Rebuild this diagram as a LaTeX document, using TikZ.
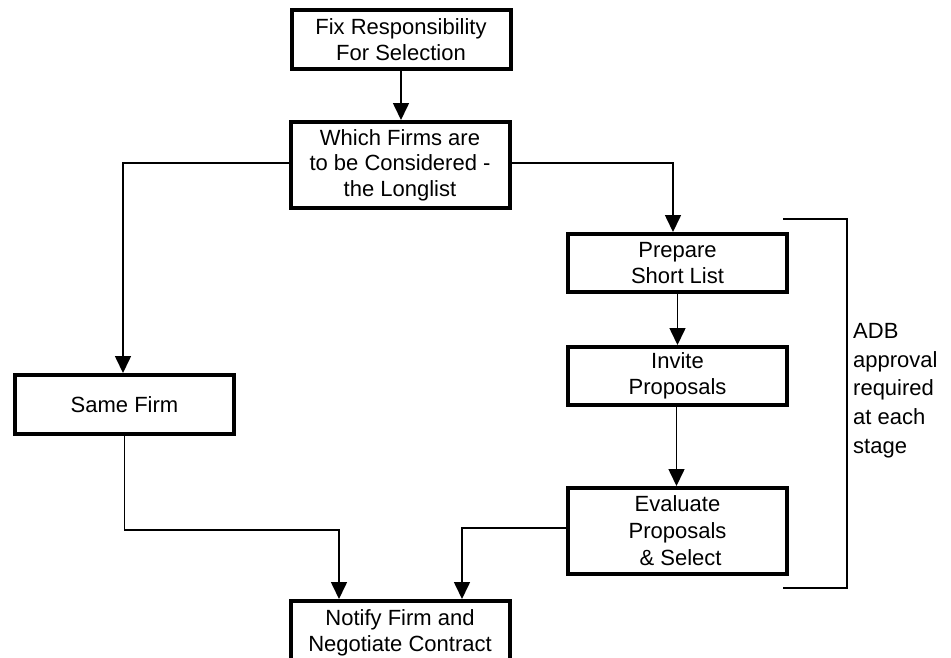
\documentclass[tikz,border=0pt]{standalone}
\usepackage{fontspec}
\setmainfont{Liberation Sans}
\usetikzlibrary{arrows.meta,calc}

\tikzset{
  stagebox/.style={draw=black, line width=4pt, fill=white, minimum width=219pt,
    align=center, inner sep=0pt, font=\fontsize{22}{25.5}\selectfont},
  flow/.style={line width=1.6pt, -{Triangle[length=17pt,width=16pt]}},
  link/.style={line width=1.6pt},
}

\begin{document}
\begin{tikzpicture}[x=1pt,y=-1pt]
  \useasboundingbox (0,0) rectangle (951,657);
  \clip (0,0) rectangle (951,657);

  % process boxes
  \node[stagebox, minimum height=59pt] (fix)    at (401,39.5)  {Fix Responsibility\\For Selection};
  \node[stagebox, minimum height=86pt] (which)  at (400,165)   {Which Firms are\\to be Considered -\\the Longlist};
  \node[stagebox, minimum height=58pt] (prep)   at (677.5,263) {Prepare\\Short List};
  \node[stagebox, minimum height=58pt] (invite) at (677.5,376) {Invite\\Proposals};
  \node[stagebox, minimum height=86pt, font=\fontsize{22}{27}\selectfont]
                                       (eval)   at (677.5,531) {Evaluate\\Proposals\\\ \& Select};
  \node[stagebox, minimum height=59pt] (same)   at (124.5,404.5) {Same Firm};
  \node[stagebox, minimum height=64pt] (notify) at (400,633)   {Notify Firm and\\Negotiate Contract};

  % connectors
  \draw[flow] (fix.south) -- (which.north -| fix.south);
  \draw[flow] ([yshift=2pt]which.west) -| (same.north -| 123,0);
  \draw[flow] ([yshift=2pt]which.east) -| (prep.north -| 673,0);
  \draw[flow] (prep.south) -- (invite.north);
  \draw[flow] ([xshift=-1pt]invite.south) -- ([xshift=-1pt]eval.north);
  \coordinate (samebend) at (same.south |- 0,530);
  \draw[flow] (same.south) -- (samebend) -| ([xshift=-61pt]notify.north);
  \draw[flow] ([yshift=3pt]eval.west) -| ([xshift=62pt]notify.north);

  % approval bracket and note
  \coordinate (brtop) at (783,219);
  \coordinate (brbot) at (783,588);
  \draw[link] (brtop) -- (847,219) -- (847,588) -- (brbot);
  \node[anchor=north west, align=left, inner sep=0pt,
        font=\fontsize{22}{28.7}\selectfont] (adb) at (853,323)
        {ADB\\approval\\required\\at each\\stage};
\end{tikzpicture}
\end{document}
